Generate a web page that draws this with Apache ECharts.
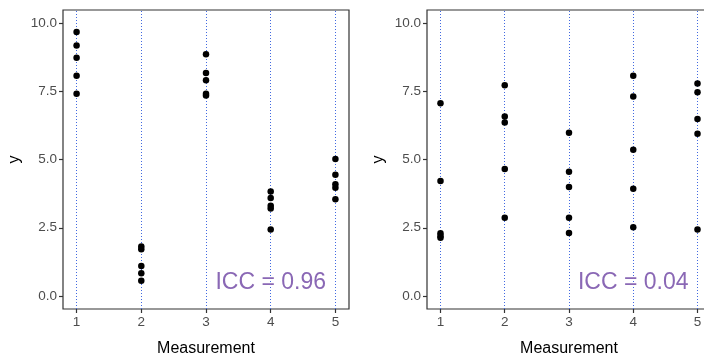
<!DOCTYPE html>
<html><head><meta charset="utf-8">
<script src="https://cdn.jsdelivr.net/npm/echarts@6/dist/echarts.min.js"></script>
<style>html,body{margin:0;padding:0;background:#fff}#c{width:704px;height:357px}</style>
</head><body><div id="c"></div>
<script>
var measurements = [1, 2, 3, 4, 5];
var yTicks = [0, 2.5, 5, 7.5, 10];
var highIccValues = [
  [9.68, 9.19, 8.74, 8.08, 7.42],
  [1.81, 1.71, 1.10, 0.83, 0.56],
  [8.87, 8.18, 7.91, 7.42, 7.35],
  [3.83, 3.59, 3.31, 3.21, 2.44],
  [5.02, 4.45, 4.10, 3.97, 3.55]
];
var lowIccValues = [
  [7.07, 4.22, 2.30, 2.20, 2.13],
  [7.73, 6.58, 6.36, 4.66, 2.87],
  [5.99, 4.56, 4.00, 2.87, 2.31],
  [8.08, 7.32, 5.36, 3.93, 2.52],
  [7.79, 7.47, 6.49, 5.95, 2.44]
];
var iccLabels = ['ICC = 0.96', 'ICC = 0.04'];
var labelPos = [4, 0.5];

function pts(vals) {
  var out = [];
  measurements.forEach(function (m, i) {
    vals[i].forEach(function (v) { out.push([m, v]); });
  });
  return out;
}

var font = 'Liberation Sans, Arial, sans-serif';
var grids = [
  {left: 63, top: 10, width: 286, height: 299, show: true, borderColor: '#333', borderWidth: 1.2, backgroundColor: 'transparent', containLabel: false, outerBoundsMode: 'none'},
  {left: 427, top: 10, width: 284, height: 299, show: true, borderColor: '#333', borderWidth: 1.2, backgroundColor: 'transparent', containLabel: false, outerBoundsMode: 'none'}
];
function xAx(i) {
  return {
    gridIndex: i, type: 'value', min: 0.79, max: 5.21,
    name: 'Measurement', nameLocation: 'middle', nameGap: 32,
    nameTextStyle: {color: '#000', fontSize: 16, fontFamily: font},
    axisLine: {show: false, onZero: false},
    axisTick: {show: true, customValues: measurements, length: 4, lineStyle: {color: '#333', width: 1.2}},
    axisLabel: {customValues: measurements, color: '#4D4D4D', fontSize: 13.5, fontFamily: font, margin: 6},
    splitLine: {show: false}
  };
}
function yAx(i) {
  return {
    gridIndex: i, type: 'value', min: -0.48, max: 10.49,
    name: 'y', nameLocation: 'middle', nameGap: 40, nameRotate: 90,
    nameTextStyle: {color: '#000', fontSize: 16, fontFamily: font},
    axisLine: {show: false, onZero: false},
    axisTick: {show: true, customValues: yTicks, length: 4, lineStyle: {color: '#333', width: 1.2}},
    axisLabel: {customValues: yTicks, color: '#4D4D4D', fontSize: 13.5, fontFamily: font, margin: 6,
      formatter: function (v) { return v.toFixed(1); }},
    splitLine: {show: false}
  };
}
var gridLineStyle = {type: [1, 2], color: '#4169E1', width: 1, opacity: 1};
function series(i, vals) {
  return {
    type: 'scatter', xAxisIndex: i, yAxisIndex: i, data: pts(vals),
    symbol: 'circle', symbolSize: 6.5, itemStyle: {color: '#000', opacity: 1}, silent: true, z: 3,
    markLine: {
      silent: true, symbol: 'none', label: {show: false},
      lineStyle: gridLineStyle,
      emphasis: {disabled: true},
      data: measurements.map(function (m) { return {xAxis: m, lineStyle: gridLineStyle}; }),
      z: 1
    }
  };
}
function textSeries(i) {
  return {
    type: 'scatter', xAxisIndex: i, yAxisIndex: i, data: [labelPos],
    symbolSize: 0, silent: true, z: 4, itemStyle: {opacity: 1},
    label: {show: true, position: 'inside', formatter: iccLabels[i], color: '#8A68B5',
      fontSize: 23, fontFamily: font, align: 'center', verticalAlign: 'middle'}
  };
}
var chart = echarts.init(document.getElementById('c'), null, {renderer: 'canvas'});
chart.setOption({
  animation: false,
  backgroundColor: '#fff',
  grid: grids,
  xAxis: [xAx(0), xAx(1)],
  yAxis: [yAx(0), yAx(1)],
  series: [series(0, highIccValues), series(1, lowIccValues), textSeries(0), textSeries(1)]
});
</script>
</body></html>
